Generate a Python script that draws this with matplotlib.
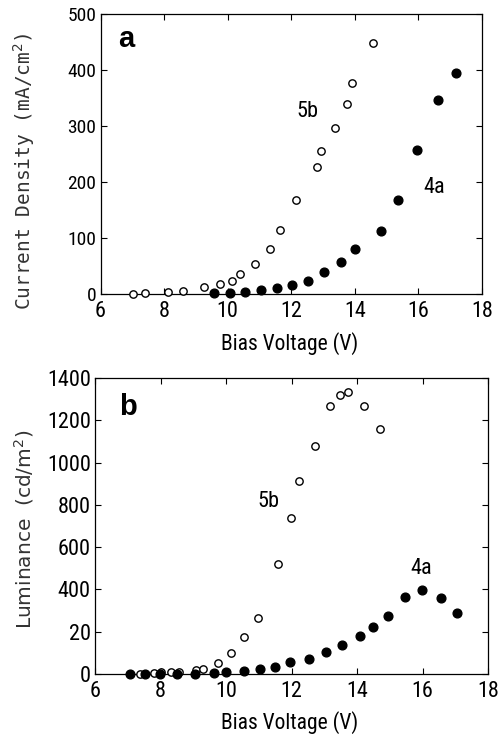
import matplotlib
matplotlib.use("Agg")
import matplotlib.pyplot as plt

NARROW = ["Roboto Condensed", "DejaVu Sans"]

# panel a: current density (mA/cm2) vs bias voltage (V)
a_5b_v = [7.03, 7.40, 8.11, 8.58, 9.24, 9.76, 10.14, 10.39, 10.85, 11.32, 11.66,
          12.16, 12.81, 12.94, 13.38, 13.76, 13.91, 14.56]
a_5b_j = [0, 2, 3, 5, 12, 17, 23, 35, 53, 81, 114, 167, 227, 256, 296, 340, 377, 448]
a_4a_v = [9.56, 10.06, 10.55, 11.05, 11.55, 12.01, 12.54, 13.04, 13.55, 14.01,
          14.82, 15.35, 15.97, 16.62, 17.19]
a_4a_j = [1, 1, 4, 7, 11, 16, 24, 39, 57, 80, 113, 168, 257, 346, 394]

# panel b: luminance (cd/m2) vs bias voltage (V)
b_5b_v = [7.38, 7.80, 8.03, 8.31, 8.58, 9.08, 9.31, 9.75, 10.16, 10.54, 10.97,
          11.59, 11.97, 12.23, 12.73, 13.18, 13.47, 13.73, 14.22, 14.69]
b_5b_l = [0, 3, 8, 8, 8, 19, 24, 51, 99, 175, 267, 518, 740, 912, 1078, 1267,
          1318, 1332, 1267, 1160]
b_4a_v = [7.07, 7.53, 7.99, 8.50, 9.06, 9.64, 10.00, 10.55, 11.05, 11.50, 11.95,
          12.53, 13.06, 13.55, 14.10, 14.49, 14.95, 15.46, 15.97, 16.56, 17.04]
b_4a_l = [0, 0, 0, 0, 0, 5, 11, 16, 22, 33, 55, 71, 103, 136, 181, 224, 276,
          366, 395, 358, 289]

x_ticks = [6, 8, 10, 12, 14, 16, 18]
a_yticks = [0, 100, 200, 300, 400, 500]
b_yticks = [0, 200, 400, 600, 800, 1000, 1200, 1400]
b_yticklabels = ["0", "20", "400", "600", "800", "1000", "1200", "1400"]

W, H = 501, 737
fig = plt.figure(figsize=(W / 100, H / 100), dpi=100)

def box(l, t, r, b):
    return [l / W, 1 - b / H, (r - l) / W, (b - t) / H]

ax1 = fig.add_axes(box(100.5, 14, 482, 294))
ax2 = fig.add_axes(box(95, 378, 488, 674))

def style(ax, ysize):
    ax.set_xlim(6, 18)
    ax.set_xticks(x_ticks)
    ax.tick_params(direction="in", length=4.5, width=0.8, top=True, right=True)
    ax.tick_params(axis="x", pad=5)
    ax.tick_params(axis="y", pad=3)
    for lab in ax.get_xticklabels():
        lab.set_family(NARROW)
        lab.set_fontsize(16)
    for lab in ax.get_yticklabels():
        lab.set_family(NARROW)
        lab.set_fontsize(ysize)
    for s in ax.spines.values():
        s.set_linewidth(0.9)

open_kw = dict(ls="none", marker="o", ms=5.3, mfc="white", mec="black", mew=1.0, clip_on=False, zorder=3)
fill_kw = dict(ls="none", marker="o", ms=6.3, mfc="black", mec="black", clip_on=False, zorder=4)

# panel a
ax1.plot(a_5b_v, a_5b_j, **open_kw)
ax1.plot(a_4a_v, a_4a_j, **fill_kw)
ax1.set_ylim(0, 500)
ax1.set_yticks(a_yticks)
style(ax1, 14)
ax1.text(6.55, 455, "a", fontsize=21, fontweight="bold", family="Liberation Sans", va="center")
ax1.text(12.5, 325, "5b", fontsize=16, family=NARROW, ha="center", va="center")
ax1.text(16.5, 190, "4a", fontsize=16, family=NARROW, ha="center", va="center")

# panel b
ax2.plot(b_5b_v, b_5b_l, **open_kw)
ax2.plot(b_4a_v, b_4a_l, **fill_kw)
ax2.set_ylim(0, 1400)
ax2.set_yticks(b_yticks)
ax2.set_yticklabels(b_yticklabels)
style(ax2, 16)
ax2.text(6.75, 1263, "b", fontsize=21, fontweight="bold", family="Liberation Sans", va="center")
ax2.text(11.3, 818, "5b", fontsize=16, family=NARROW, ha="center", va="center")
ax2.text(15.95, 497, "4a", fontsize=16, family=NARROW, ha="center", va="center")

# axis labels
fig.text(290 / W, 1 - 344 / H, "Bias Voltage (V)", family=NARROW, fontsize=15.5, ha="center", va="center")
fig.text(290 / W, 1 - 723 / H, "Bias Voltage (V)", family=NARROW, fontsize=15.5, ha="center", va="center")
fig.text(24 / W, 1 - 171 / H, "Current Density (mA/cm$^2$)", family="DejaVu Sans Mono",
         fontsize=14, rotation=90, ha="center", va="center", color="#333333")
fig.text(24 / W, 1 - 529 / H, "Luminance  (cd/m$^2$)", family="DejaVu Sans",
         fontsize=14.5, rotation=90, ha="center", va="center", color="#333333")

fig.savefig("out.png", dpi=100)
